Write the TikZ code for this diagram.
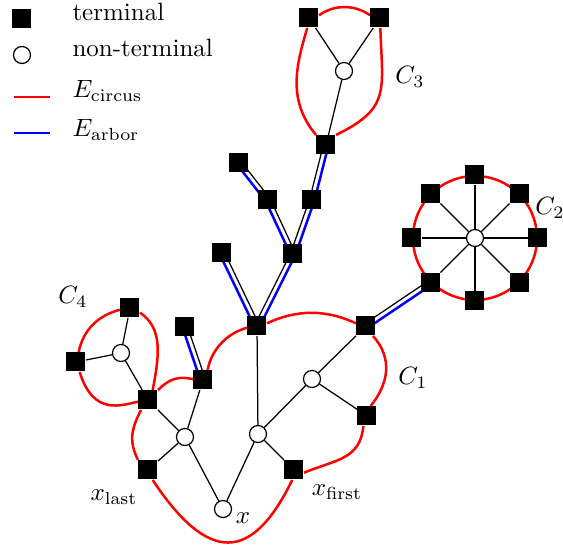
\documentclass[tikz,border=0pt]{standalone}
\usetikzlibrary{calc,backgrounds}
\definecolor{circusred}{HTML}{FF0000}
\definecolor{arborblue}{HTML}{0000FF}

\begin{document}
\begin{tikzpicture}[
  x=0.4pt, y=-0.4pt,
  term/.style={fill=black, minimum size=7.6pt, inner sep=0pt},
  nonterm/.style={circle, draw=black, fill=white, line width=0.5pt,
                  minimum size=6.8pt, inner sep=0pt},
  link/.style={line width=0.5pt},
  circus/.style={draw=circusred, line width=1pt},
  arbor/.style={draw=arborblue, line width=1pt},
  legtext/.style={anchor=base west, inner sep=0pt},
  lab/.style={inner sep=1pt}
]
\useasboundingbox (0,0) rectangle (563,546);
% ================= legend =================
\node[term]    (lgterm) at (22,19) {};
\node[legtext] (lgtermtext) at (72,21) {terminal};
\node[nonterm] (lgnon) at (22,55) {};
\node[legtext] (lgnontext) at (72,57) {non-terminal};
\coordinate (lgcircA) at (14,97);
\coordinate (lgcircB) at (50,97);
\draw[circus] (lgcircA) -- (lgcircB);
\node[legtext] (lgcirctext) at (72,98) {$E_{\mathrm{circus}}$};
\coordinate (lgarbA) at (14,133);
\coordinate (lgarbB) at (50,133);
\draw[arbor] (lgarbA) -- (lgarbB);
\node[legtext] (lgarbtext) at (72,137) {$E_{\mathrm{arbor}}$};
% ================= cycle C3 on top =================
\node[term]    (c3a) at (309,18) {};
\node[term]    (c3b) at (380,18) {};
\node[nonterm] (c3m) at (344,71) {};
\node[term]    (c3r) at (326,145) {};
% ================= arbor branches =================
\node[term] (br1) at (312,200) {};
\node[term] (br2) at (268,200) {};
\node[term] (br3) at (239,163) {};
\node[term] (br4) at (293,254) {};
\node[term] (br5) at (222,253) {};
\node[term] (br6) at (185,327) {};
% ================= cycle C1 =================
\node[term]    (c1a) at (257,326) {};
\node[term]    (c1b) at (366,326) {};
\node[term]    (c1c) at (367,416) {};
\node[term]    (xf)  at (294,470) {};
\node[term]    (xl)  at (148,470) {};
\node[term]    (c1d) at (148,400) {};
\node[term]    (c1e) at (203,380) {};
\node[nonterm] (m1)  at (185,437) {};
\node[nonterm] (m2)  at (258,434) {};
\node[nonterm] (m3)  at (312,379) {};
\node[nonterm] (x)   at (223,509) {};
% ================= cycle C4 =================
\node[term]    (c4a) at (130,308) {};
\node[term]    (c4b) at (76,362) {};
\node[nonterm] (c4m) at (121,353) {};
% ================= cycle C2: wheel =================
\node[nonterm] (c2m) at (475,238) {};
\foreach \k/\a in {1/90,2/45,3/0,4/-45,5/-90,6/-135,7/180,8/135}
  \node[term] (c2\k) at ($(c2m)+(\a:63)$) {};
% ================= labels =================
\node[lab] (c3lab) at (410,77)  {$C_3$};
\node[lab] (c2lab) at (550,208) {$C_2$};
\node[lab] (c1lab) at (413,378) {$C_1$};
\node[lab] (c4lab) at (73,297)  {$C_4$};
\node[lab] (xflab) at (337,492) {$x_{\mathrm{first}}$};
\node[lab] (xllab) at (114,497) {$x_{\mathrm{last}}$};
\node[lab] (xlab)  at (243,518) {$x$};
% ================= edges, behind the nodes =================
\begin{scope}[on background layer]
% plain edges
\foreach \a/\b in {c3a/c3m, c3b/c3m, c3m/c3r, c4a/c4m, c4b/c4m, c4m/c1d,
                   c1d/m1, c1e/m1, m1/xl, m1/x, x/m2, m2/c1a, m2/m3, m2/xf,
                   m3/c1b, m3/c1c}
  \draw[link] (\a) -- (\b);
\foreach \k in {1,...,8} \draw[link] (c2m) -- (c2\k);
% arbor edges: black beside blue
\foreach \a/\b in {br1/c3r, br4/br1, br3/br2, br2/br4, c1a/br4, br5/c1a,
                   c1b/c28, br6/c1e}{
  \draw[link]  ($(\a)!1pt!90:(\b)$) -- ($(\b)!1pt!-90:(\a)$);
  \draw[arbor] ($(\a)!1pt!-90:(\b)$) -- ($(\b)!1pt!90:(\a)$);
}
% circus edges
\draw[circus] (c3a.15) .. controls +(15,-11) and +(-15,-11) .. (c3b.165);
\draw[circus] (c3a.-100) .. controls +(-12,40) and +(-28,-34) .. (c3r.north west);
\draw[circus] (c3b.-88) .. controls +(2,63) and +(55,-27) .. (c3r.north east);
\draw[circus] (c2m) circle[radius=24.8pt];
% C4
\draw[circus] (c4a.-25) .. controls +(20.4,14.3) and +(8.4,-42) .. (c1d.65);
\draw[circus] (c1d.190) .. controls +(-16,3) and +(14,45) .. (c4b.-70);
\draw[circus] (c4b.75) .. controls +(4.5,-22) and +(-22,5.6) .. (c4a.190);
% C1
\draw[circus] (c1d.45) .. controls +(15.6,-15.6) and +(-9,-1.4) .. (c1e.175);
\draw[circus] (c1e.65) .. controls +(3,-18) and +(-22,6) .. (c1a.190);
\draw[circus] (c1a.15) .. controls +(30,-14) and +(-30,-14) .. (c1b.165);
\draw[circus] (c1b.-55) .. controls +(20,22) and +(18,-22) .. (c1c.70);
\draw[circus] (c1c.-110) .. controls +(-3.3,33) and +(34,-13.6) .. (xf.-15);
\draw[circus] (xf.-100) .. controls +(-40.5,83) and +(55.6,83.8) .. (xl.-65);
\draw[circus] (xl.135) .. controls +(-10.6,-21) and +(-8,16) .. (c1d.-125);
\end{scope}
\end{tikzpicture}
\end{document}
